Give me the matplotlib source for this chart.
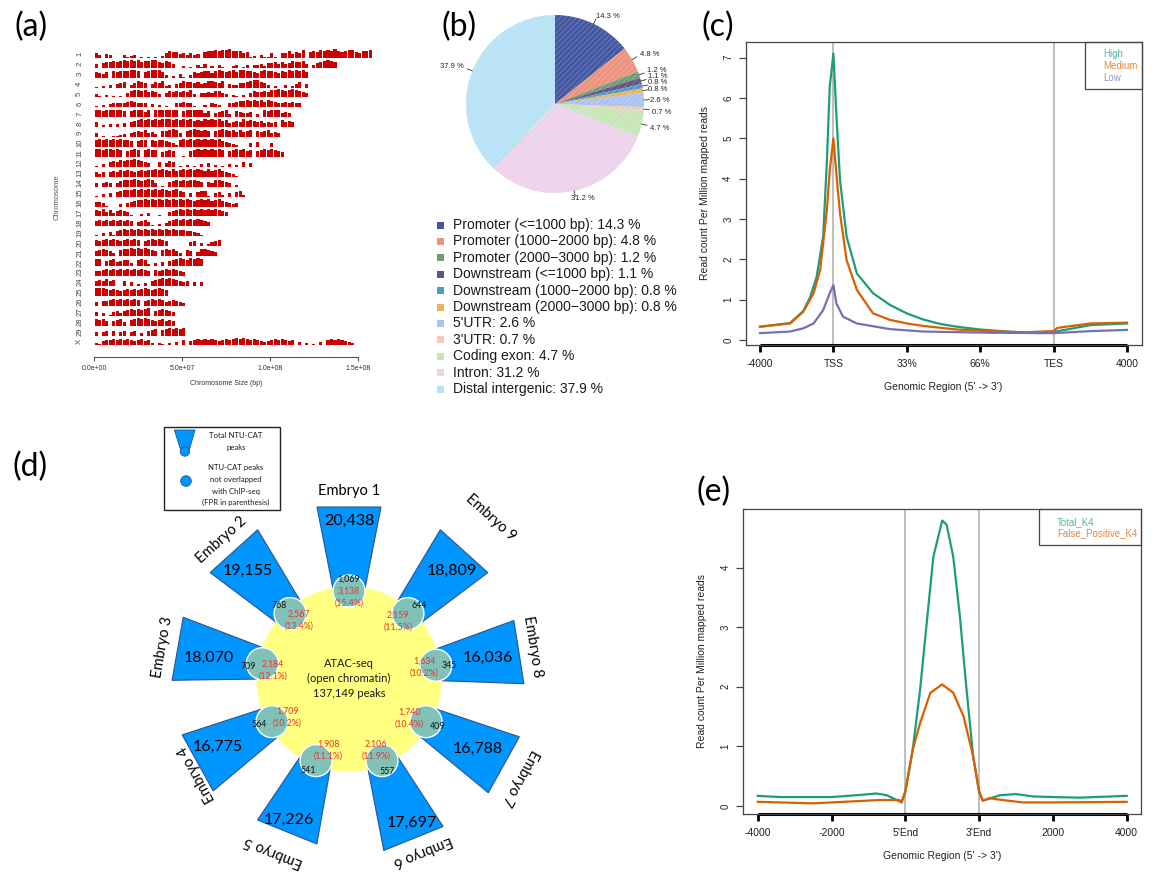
import numpy as np
import matplotlib
matplotlib.use("Agg")
import matplotlib.pyplot as plt
from matplotlib.patches import Polygon, Circle, Rectangle
from matplotlib.colors import to_rgb

# ======================= DATA =======================
# (a) peak density per chromosome, 2 Mb bins, heights 0-9
chrom_names = [str(i) for i in range(1, 30)] + ["X"]
chrom_peaks = [
    "5304300031" "2301010102" "5766453534" "0677878897" "7756120311" "5105574658" "0676878797" "678865778",
    "4056676787" "8786778865" "7640020103" "1402031002" "3013033425" "5646457667" "403567876",
    "6546076777" "8870678886" "3020410365" "6775787678" "6887765787" "7657687878" "6",
    "1020304560" "3576504657" "2304576656" "4577657043" "3556788653" "0200302460" "4",
    "4103010205" "7887867640" "5767676840" "5565775403" "2030576676" "8898789876" "5",
    "1020345456" "7654403020" "1004565410" "0204320045" "6778787868" "7655646540",
    "7867788760" "6787570787" "7887067787" "7460456730" "6544503076" "787454",
    "5020303040" "5678787878" "8878787867" "6878786745" "6586765645" "4507565",
    "4010011230" "4565745306" "6787406787" "6760678767" "5756706567" "454",
    "7878787877" "6067707677" "6542787878" "7878786543" "2000405000" "40",
    "8878878706" "7870787705" "6760010678" "7878787067" "8786706787" "8765",
    "1030565767" "7876540050" "4650102010" "3040201030" "205040",
    "5350565767" "6567677878" "7686787878" "7686786543" "10",
    "4045404677" "7876787401" "0567676776" "5054776540" "20",
    "1030405677" "7878787878" "7678650405" "6610452040" "562",
    "5541000304" "5677878787" "8787878767" "8786786543" "4",
    "7685746765" "2103040120" "0567878787" "87878765",
    "6767676767" "6056751020" "4678787878" "765",
    "1030416787" "8787878787" "8787776543" "10",
    "6567676567" "6760567676" "5000000450" "302456",
    "5676530677" "8787876506" "7675306504" "776540",
    "7705674566" "3067620304" "0567876878" "7",
    "5567676767" "6767650656" "767654",
    "5657560050" "4020305678" "7876545040" "4",
    "8887676567" "6767876787" "6",
    "4055676767" "6760567676" "456543",
    "4030145356" "7676780567" "654",
    "7675056740" "6787876567" "565",
    "4045050450" "4503056706" "787878",
    "3156676767" "6567563031" "0304060567" "6767656767" "8787676545" "6767656040" "3010406767" "6543",
]
bin_size = 2e6
a_xticks = [0, 5e7, 1e8, 1.5e8]

# (b) genomic annotation pie
pie_names = ["Promoter (<=1000 bp)", "Promoter (1000\u22122000 bp)", "Promoter (2000\u22123000 bp)",
             "Downstream (<=1000 bp)", "Downstream (1000\u22122000 bp)", "Downstream (2000\u22123000 bp)",
             "5'UTR", "3'UTR", "Coding exon", "Intron", "Distal intergenic"]
pie_values = [14.3, 4.8, 1.2, 1.1, 0.8, 0.8, 2.6, 0.7, 4.7, 31.2, 37.9]
pie_colors = ["#4457A3", "#EB937E", "#6E9C74", "#66508A", "#4C9DC4", "#E9B35C",
              "#A8C4F0", "#FAC6B6", "#C6E6B8", "#EDD2EC", "#B8E2F5"]

# (c) profile around gene body
c_xticklabels = ["-4000", "TSS", "33%", "66%", "TES", "4000"]
c_yticks = [0, 1, 2, 3, 4, 5, 6, 7]
c_high_x = [0, 0.41, 0.59, 0.68, 0.77, 0.86, 0.91, 0.95, 1.0, 1.04, 1.09, 1.18, 1.32, 1.54, 1.77,
            2.0, 2.22, 2.45, 2.68, 3.0, 3.36, 3.81, 4.0, 4.27, 4.5, 5.0]
c_high_y = [0.33, 0.42, 0.72, 1.05, 1.55, 2.56, 4.38, 6.28, 7.1, 5.6, 3.97, 2.56, 1.65, 1.16, 0.87,
            0.66, 0.51, 0.40, 0.33, 0.26, 0.21, 0.17, 0.20, 0.29, 0.37, 0.41]
c_med_x = [0, 0.41, 0.59, 0.73, 0.82, 0.91, 0.95, 1.0, 1.04, 1.09, 1.18, 1.32, 1.54, 1.77, 2.0,
           2.22, 2.68, 3.13, 3.59, 4.0, 4.05, 4.5, 5.0]
c_med_y = [0.33, 0.41, 0.70, 1.16, 1.74, 3.2, 4.2, 5.0, 4.13, 3.14, 1.98, 1.24, 0.66, 0.50, 0.41,
           0.35, 0.26, 0.22, 0.19, 0.22, 0.30, 0.41, 0.43]
c_low_x = [0, 0.41, 0.59, 0.73, 0.86, 0.95, 1.0, 1.04, 1.13, 1.32, 1.77, 2.22, 3.13, 4.0, 4.5, 5.0]
c_low_y = [0.17, 0.21, 0.29, 0.41, 0.74, 1.16, 1.36, 0.91, 0.58, 0.41, 0.27, 0.21, 0.18, 0.17, 0.22, 0.25]
c_series = ["High", "Medium", "Low"]
c_colors = ["#1B9E77", "#D95F02", "#7570B3"]

# (d) embryo peaks
embryo_names = ["Embryo %d" % i for i in range(1, 10)]
embryo_total = [20438, 19155, 18070, 16775, 17226, 17697, 16788, 16036, 18809]
embryo_nonoverlap = [1069, 768, 709, 564, 541, 557, 409, 345, 644]
embryo_fp = [3138, 2567, 2184, 1709, 1908, 2106, 1740, 1634, 2159]
embryo_fpr = [15.4, 13.4, 12.1, 10.2, 11.1, 11.9, 10.4, 10.2, 11.5]
atac_peaks = 137149

# (e) profile around peaks
e_xticklabels = ["-4000", "-2000", "5'End", "3'End", "2000", "4000"]
e_yticks = [0, 1, 2, 3, 4]
e_total_x = [0, 0.30, 1.0, 1.38, 1.61, 1.75, 1.95, 2.0, 2.1, 2.2, 2.29, 2.38, 2.5, 2.56, 2.65,
             2.74, 2.83, 2.92, 3.0, 3.05, 3.28, 3.5, 3.73, 4.0, 4.36, 5.0]
e_total_y = [0.17, 0.15, 0.15, 0.185, 0.21, 0.18, 0.06, 0.24, 0.94, 1.95, 3.07, 4.18, 4.79, 4.72, 4.18,
             3.18, 1.95, 0.83, 0.24, 0.09, 0.18, 0.20, 0.16, 0.15, 0.14, 0.17]
e_fp_x = [0, 0.75, 1.0, 1.65, 1.92, 1.95, 2.0, 2.1, 2.2, 2.34, 2.5, 2.65, 2.79, 2.92, 3.0, 3.05,
          3.14, 3.32, 3.59, 4.0, 5.0]
e_fp_y = [0.07, 0.045, 0.06, 0.10, 0.10, 0.06, 0.24, 0.94, 1.39, 1.90, 2.04, 1.90, 1.5, 0.83, 0.24, 0.09,
          0.13, 0.10, 0.06, 0.06, 0.07]
e_series = ["Total_K4", "False_Positive_K4"]
e_colors = ["#1B9E77", "#D95F02"]

# ======================= FIGURE =======================
W, H = 1155, 872
fig = plt.figure(figsize=(W / 100, H / 100), dpi=100)
plt.rcParams['font.family'] = ['Liberation Sans', 'DejaVu Sans']
CAL = ['Lato', 'DejaVu Sans']


def add_ax(l, t, r, b):
    return fig.add_axes([l / W, 1 - b / H, (r - l) / W, (b - t) / H])


# ---------------- (a) ----------------
aL, aR, aT, aB = 86, 380, 40, 357
x0px, pxper = 94.3, 175.7 / 1e8
row0, rowsp = 54.0, 9.92
axA = add_ax(aL, aT, aR, aB)
axA.set_xlim((aL - x0px) / pxper, (aR - x0px) / pxper)
axA.set_ylim((aB - row0) / rowsp, (aT - row0) / rowsp)
for i, s in enumerate(chrom_peaks):
    h = np.array([int(c) for c in s]) / 9.0 * 0.88
    xs = (np.arange(len(s)) + 0.5) * bin_size
    axA.bar(xs, -h, bottom=i + 0.38, width=bin_size * 0.88, color="#CC0000", linewidth=0)
for k in ["top", "right", "left"]:
    axA.spines[k].set_visible(False)
axA.spines["bottom"].set_bounds(a_xticks[0], a_xticks[-1])
axA.spines["bottom"].set_color("#555555")
axA.spines["bottom"].set_linewidth(0.8)
axA.set_xticks(a_xticks)
axA.set_xticklabels(["%.1e" % v for v in a_xticks], fontsize=5, color="#333333")
axA.tick_params(axis="x", length=3, width=0.8, color="#555555", pad=3)
axA.set_yticks(range(len(chrom_names)))
axA.set_yticklabels(chrom_names, rotation=90, va="center", fontsize=5.5, color="#444444")
axA.tick_params(axis="y", length=0, pad=2)
fig.text(226 / W, 1 - 383 / H, "Chromosome Size (bp)", fontsize=5, color="#333333", ha="center", va="center")
fig.text(57 / W, 1 - 197 / H, "Chromosome", fontsize=5.5, color="#555555", ha="center", va="center", rotation=90)

# ---------------- (b) ----------------
pcx, pcy, prad = 555, 104, 89
bL, bT, bR, bB = 440, 5, 680, 205
axB = add_ax(bL, bT, bR, bB)


def lighten(c, f=0.28):
    r, g, b = to_rgb(c)
    return (r + (1 - r) * f, g + (1 - g) * f, b + (1 - b) * f)


plt.rcParams['hatch.linewidth'] = 0.5
wedges, _ = axB.pie(pie_values, colors=pie_colors, startangle=90, counterclock=False, radius=1.0,
                    wedgeprops=dict(linewidth=0))
for w, c in zip(wedges, pie_colors):
    w.set_hatch("//////")
    w.set_edgecolor(lighten(c))
    w.set_linewidth(0)
axB.set_aspect("auto")
axB.set_xlim((bL - pcx) / prad, (bR - pcx) / prad)
axB.set_ylim((pcy - bB) / prad, (pcy - bT) / prad)
axB.axis("off")
pie_label_px = [(608, 16), (650, 54), (657, 70), (658, 76), (658, 82.5), (658, 89.5), (660, 100),
                (662, 112), (660, 128), (583, 198), (452, 67)]
tot = sum(pie_values)
cum = 0
for v, (lx, ly) in zip(pie_values, pie_label_px):
    mid = np.deg2rad(90 - 360 * (cum + v / 2) / tot)
    cum += v
    axB.plot([np.cos(mid), 1.06 * np.cos(mid)], [np.sin(mid), 1.06 * np.sin(mid)], color="#333333", lw=0.6)
    axB.text((lx - pcx) / prad, (pcy - ly) / prad, "%.1f %%" % v, fontsize=5.5, ha="center", va="center",
             color="#222222")

# ---------------- (c) ----------------
cL, cT, cR, cB = 745.7, 42.5, 1141.7, 345
cx0, cxs = 760, 73.4
cy0, cys = 340, 40.33
axC = add_ax(cL, cT, cR, cB)
axC.set_xlim((cL - cx0) / cxs, (cR - cx0) / cxs)
axC.set_ylim((cy0 - cB) / cys, (cy0 - cT) / cys)
axC.axvline(1, color="#BEBEBE", lw=1.4)
axC.axvline(4, color="#BEBEBE", lw=1.4)
for xs, ys, col in zip([c_high_x, c_med_x, c_low_x], [c_high_y, c_med_y, c_low_y], c_colors):
    axC.plot(xs, ys, color=col, lw=1.6)


def r_style(ax, xtl, yt):
    for s in ax.spines.values():
        s.set_color("#444444")
        s.set_linewidth(0.9)
    xt = list(range(len(xtl)))
    ax.set_xticks(xt)
    ax.set_xticklabels(xtl, fontsize=7.5, color="#222222")
    ax.set_yticks(yt)
    ax.set_yticklabels([str(v) for v in yt], rotation=90, va="center", fontsize=7, color="#222222")
    ax.tick_params(axis="x", length=5, width=2, pad=5, color="black")
    ax.tick_params(axis="y", length=5, width=0.9, pad=4, color="#444444")
    yb = ax.get_ylim()[0]
    xl = ax.get_xlim()
    ax.plot([xt[0], xt[-1]], [yb, yb], color="black", lw=2.2, clip_on=False, solid_capstyle="butt")
    ax.set_xlim(xl)


r_style(axC, c_xticklabels, c_yticks)
fig.text(705 / W, 1 - 193.5 / H, "Read count Per Million mapped reads", rotation=90, fontsize=7.5,
         ha="center", va="center", color="#222222")
fig.text(943 / W, 1 - 387 / H, "Genomic Region (5' -> 3')", fontsize=7.5, ha="center", va="center",
         color="#222222")

# ---------------- (e) ----------------
eL, eT, eR, eB = 743.3, 509.3, 1140.7, 814
ex0, exs = 757.7, 73.8
ey0, eys = 806, 59.6
axE = add_ax(eL, eT, eR, eB)
axE.set_xlim((eL - ex0) / exs, (eR - ex0) / exs)
axE.set_ylim((ey0 - eB) / eys, (ey0 - eT) / eys)
axE.axvline(2, color="#BEBEBE", lw=1.4)
axE.axvline(3, color="#BEBEBE", lw=1.4)
for xs, ys, col in zip([e_total_x, e_fp_x], [e_total_y, e_fp_y], e_colors):
    axE.plot(xs, ys, color=col, lw=1.6)
r_style(axE, e_xticklabels, e_yticks)
fig.text(702 / W, 1 - 661 / H, "Read count Per Million mapped reads", rotation=90, fontsize=7.5,
         ha="center", va="center", color="#222222")
fig.text(942 / W, 1 - 856 / H, "Genomic Region (5' -> 3')", fontsize=7.5, ha="center", va="center",
         color="#222222")

# ---------------- overlay (pixel coordinates) ----------------
ov = fig.add_axes([0, 0, 1, 1])
ov.set_xlim(0, W)
ov.set_ylim(H, 0)
ov.axis("off")

# panel letters
for lab, (x, y) in zip(["(a)", "(b)", "(c)", "(d)", "(e)"],
                       [(31, 27), (459, 27), (718, 27), (30, 467), (714, 492)]):
    ov.text(x, y, lab, fontsize=23, family=CAL, ha="center", va="center", color="black")

# (b) legend
for i, (nm, v, c) in enumerate(zip(pie_names, pie_values, pie_colors)):
    y = 225 + i * 16.4
    ov.add_patch(Rectangle((436.5, y - 3.5), 7, 7, facecolor=c, edgecolor="none"))
    ov.text(453, y, "%s: %.1f %%" % (nm, v), fontsize=10, ha="left", va="center", color="#1A1A1A")

# (c) legend
ov.add_patch(Rectangle((1085, 42.5), 1141.7 - 1085, 89.3 - 42.5, facecolor="none", edgecolor="#444444", lw=0.9))
for i, (nm, col) in enumerate(zip(c_series, c_colors)):
    ov.text(1103, 54 + i * 12, nm, fontsize=7, color=col, ha="left", va="center", alpha=0.75)

# (e) legend
ov.add_patch(Rectangle((1039, 509.3), 1140.7 - 1039, 545 - 509.3, facecolor="none", edgecolor="#444444", lw=0.9))
for i, (nm, col) in enumerate(zip(e_series, e_colors)):
    ov.text(1057, 521.7 + i * 11.7, nm, fontsize=7, color=col, ha="left", va="center", alpha=0.75)

# (d) infographic
CX, CY, CR = 349, 679, 92.5
BLUE, EDGE = "#0096FF", "#2F528F"
TEAL = "#80C2B8"
RED = "#F0302A"
angles = [90, 132, 170, -151, -112, -68, -29, 9, 48]
outer = [172, 172, 174, 173, 165, 172, 177, 172, 172]
for ang, r2 in zip(angles, outer):
    t = np.deg2rad(ang)
    u = np.array([np.cos(t), -np.sin(t)])
    v = np.array([np.sin(t), np.cos(t)])
    c = np.array([CX, CY])
    r1, w1, w2 = 80, 14, 32
    pts = [c + r1 * u + w1 * v, c + r2 * u + w2 * v, c + r2 * u - w2 * v, c + r1 * u - w1 * v]
    ov.add_patch(Polygon(pts, closed=True, facecolor=BLUE, edgecolor=EDGE, lw=0.8, zorder=1))
ov.add_patch(Circle((CX, CY), CR, facecolor="#FFFF80", edgecolor="none", zorder=2))
for ang in angles:
    t = np.deg2rad(ang)
    ov.add_patch(Circle((CX + 88 * np.cos(t), CY - 88 * np.sin(t)), 16, facecolor=TEAL, edgecolor="white",
                        lw=1.0, zorder=3))

ov.text(CX, 663, "ATAC-seq", fontsize=8, family=CAL, ha="center", va="center", color="#1A1A1A", zorder=5)
ov.text(CX, 678, "(open chromatin)", fontsize=8, family=CAL, ha="center", va="center", color="#1A1A1A", zorder=5)
ov.text(CX, 693, "{:,} peaks".format(atac_peaks), fontsize=8, family=CAL, ha="center", va="center",
        color="#1A1A1A", zorder=5)

total_pos = [(349, 521), (248, 571), (209, 658), (218, 747), (289, 820), (412, 823), (478, 749), (488, 658),
             (452, 571)]
name_pos = [(349, 491), (221, 540), (163, 647), (197, 774), (274, 852), (423, 851), (520, 778), (533, 647),
            (491, 518)]
black_pos = [(348, 579), (279, 605), (248, 666), (259, 724), (308, 770), (387, 771.5), (438, 726), (449, 665),
             (419, 605.5)]
red_pos = [(349, 591.5), (299, 614), (273, 664), (287, 711), (328, 744), (376, 744), (409, 712), (424, 661),
           (398, 615)]
for i in range(9):
    ang = angles[i]
    ov.text(*total_pos[i], "{:,}".format(embryo_total[i]), fontsize=11.5, family=CAL, ha="center",
            va="center", color="black", zorder=5)
    ov.text(*name_pos[i], embryo_names[i], fontsize=10.5, family=CAL, ha="center", va="center",
            rotation=ang - 90, rotation_mode="anchor", color="black", zorder=5)
    ov.text(*black_pos[i], "{:,}".format(embryo_nonoverlap[i]), fontsize=6.3, family=CAL, ha="center",
            va="center", color="#111111", zorder=5)
    rx, ry = red_pos[i]
    ov.text(rx, ry, "{:,}".format(embryo_fp[i]), fontsize=6.3, family=CAL, ha="center", va="center",
            color=RED, zorder=5)
    ov.text(rx, ry + 11.7, "(%.1f%%)" % embryo_fpr[i], fontsize=6.3, family=CAL, ha="center", va="center",
            color=RED, zorder=5)

# (d) legend box
ov.add_patch(Rectangle((164.3, 426.7), 280 - 164.3, 510 - 426.7, facecolor="white", edgecolor="#222222",
                       lw=1.0, zorder=1))
ov.add_patch(Polygon([(174.3, 430), (195, 430), (189.3, 450), (180.7, 450)], closed=True, facecolor=BLUE,
                     edgecolor=EDGE, lw=0.6, zorder=2))
ov.add_patch(Circle((184.9, 451.5), 4.7, facecolor=BLUE, edgecolor=EDGE, lw=0.6, zorder=3))
ov.add_patch(Circle((186, 481), 5.3, facecolor=BLUE, edgecolor=EDGE, lw=0.6, zorder=3))
for txt, y in [("Total NTU-CAT", 435.5), ("peaks", 447.5), ("NTU-CAT peaks", 467.5), ("not overlapped", 479.5),
               ("with ChIP-seq", 491), ("(FPR in parenthesis)", 502)]:
    ov.text(236, y, txt, fontsize=5.6, family=CAL, ha="center", va="center", color="#1A1A1A", zorder=5)

fig.savefig("out.png", dpi=100)
